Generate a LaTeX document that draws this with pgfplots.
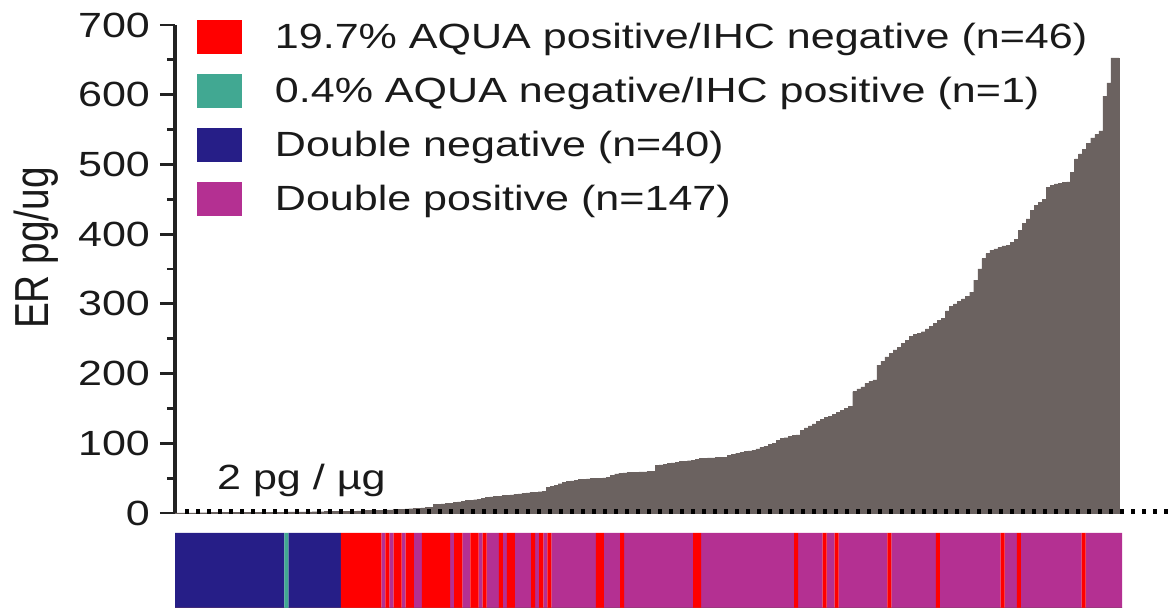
\documentclass[border=0pt]{standalone}
\usepackage{graphicx}
\usepackage{fontspec}
\setmainfont{Liberation Sans}[FakeStretch=1.23]
\newfontfamily\labfont{Liberation Sans}
\usepackage{pgfplots}
\usepackage{pgfplotstable}
\pgfplotsset{compat=1.18}
\definecolor{barc}{HTML}{6B6260}
\definecolor{cR}{HTML}{FF0000}
\definecolor{cT}{HTML}{41A892}
\definecolor{cB}{HTML}{261E87}
\definecolor{cP}{HTML}{B43092}
\definecolor{axc}{HTML}{222222}
\definecolor{txt}{HTML}{1A1A1A}
% c: 1 = double negative, 2 = AQUA neg/IHC pos, 3 = AQUA pos/IHC neg, 4 = double positive
\pgfplotstableread{
i er c
0 0.1 1
1 0.1 1
2 0.2 1
3 0.2 1
4 0.3 1
5 0.3 1
6 0.4 1
7 0.4 1
8 0.5 1
9 0.5 1
10 0.6 1
11 0.6 1
12 0.7 1
13 0.7 1
14 0.8 1
15 0.8 1
16 0.9 1
17 0.9 1
18 1.0 1
19 1.0 1
20 1.1 1
21 1.1 1
22 1.2 1
23 1.2 1
24 1.3 1
25 1.3 1
26 1.4 1
27 1.4 2
28 1.5 1
29 1.5 1
30 1.6 1
31 1.6 1
32 1.7 1
33 1.7 1
34 1.8 1
35 1.8 1
36 1.8 1
37 1.9 1
38 1.9 1
39 1.9 1
40 1.9 1
41 2.1 3
42 2.3 3
43 2.5 3
44 2.7 3
45 2.9 3
46 3.1 3
47 3.3 3
48 3.5 3
49 3.7 3
50 3.9 3
51 4.1 4
52 4.3 3
53 4.6 4
54 4.9 3
55 5.2 3
56 5.5 4
57 5.8 3
58 6.1 3
59 6.4 4
60 6.8 4
61 7.2 3
62 7.6 3
63 8.0 3
64 12 3
65 12.5 3
66 13 3
67 13.5 3
68 14 4
69 15 3
70 16 3
71 17 4
72 18 4
73 18.5 3
74 19 3
75 20 4
76 21 3
77 22 4
78 23 4
79 23.5 4
80 24 3
81 25 4
82 25.5 3
83 26 3
84 27 4
85 27.5 4
86 28 4
87 29 4
88 29.5 3
89 30 4
90 30.5 3
91 31 4
92 37 3
93 38 4
94 40 4
95 42 4
96 44 4
97 45 4
98 46 4
99 47 4
100 48 4
101 48.5 4
102 49 4
103 49.5 4
104 50 3
105 50 3
106 50.5 4
107 51 4
108 54 4
109 56 4
110 57 3
111 57.5 4
112 58 4
113 58 4
114 58.5 4
115 59 4
116 59 4
117 59.5 4
118 60 4
119 68 4
120 69 4
121 70 4
122 71 4
123 72 4
124 73 4
125 74 4
126 74.5 4
127 75 4
128 76 3
129 77 3
130 78 4
131 78.5 4
132 79 4
133 79 4
134 79.5 4
135 80 4
136 80 4
137 83 4
138 84 4
139 86 4
140 87 4
141 88 4
142 89 4
143 90 4
144 92 4
145 94 4
146 96 4
147 98 4
148 100 4
149 104 4
150 107 4
151 108 4
152 110 4
153 111 3
154 112 4
155 119 4
156 122 4
157 125 4
158 128 4
159 131 4
160 134 3
161 137 4
162 139 4
163 141 3
164 144 4
165 147 4
166 150 4
167 153 4
168 174 4
169 178 4
170 181 4
171 186 4
172 189 4
173 191 4
174 212 4
175 218 4
176 224 3
177 229 4
178 234 4
179 238 4
180 243 4
181 248 4
182 253 4
183 256 4
184 258 4
185 260 4
186 264 4
187 268 4
188 272 3
189 276 4
190 279 4
191 290 4
192 296 4
193 300 4
194 304 4
195 307 4
196 311 4
197 317 4
198 334 4
199 350 4
200 365 4
201 372 4
202 377 4
203 379 4
204 381 3
205 383 4
206 384 4
207 388 4
208 393 3
209 405 4
210 415 4
211 422 4
212 434 4
213 441 4
214 446 4
215 450 4
216 467 4
217 470 4
218 472 4
219 473 4
220 474 4
221 475 4
222 489 4
223 508 4
224 515 3
225 522 4
226 530 4
227 538 4
228 543 4
229 548 4
230 598 4
231 617 4
232 653 4
233 653 4
}\erdata
\begin{document}
\begin{tikzpicture}
\begin{axis}[
  at={(87.5pt,47.5pt)}, anchor=south west,
  scale only axis, width=498.5pt, height=244pt,
  xmin=0, xmax=247.15, ymin=0, ymax=700, clip=false,
  axis x line=none, axis y line*=left,
  y axis line style={line width=1.5pt, color=axc},
  ytick={0,100,...,700}, minor ytick={50,150,...,650},
  tick align=outside, major tick length=7.5pt, minor tick length=4pt,
  tick style={line width=1.4pt, color=axc},
  yticklabel style={font=\fontsize{17.5}{20}\selectfont, text=txt, xshift=-1.5pt},
  /pgf/number format/assume math mode=true,
  ylabel={\scalebox{1}[1.23]{\labfont\fontsize{19.4}{22}\selectfont ER pg/ug}},
  ylabel style={at={(axis description cs:-0.139,0.543)}, anchor=center, text=txt},
  legend style={at={(axis description cs:0.022,1.01)}, anchor=north west,
    draw=none, fill=none, inner sep=0pt, outer sep=0pt, row sep=10pt, column sep=16.5pt,
    font=\fontsize{17.5}{20}\selectfont, text=txt,
    nodes={inner sep=0pt, outer sep=0pt}},
  legend cell align=left,
  legend image code/.code={\fill[#1] (0pt,-8.5pt) rectangle (22.5pt,8.5pt);},
]
\addlegendimage{fill=cR, draw=none}
\addlegendentry{19.7\% AQUA positive/IHC negative (n=46)}
\addlegendimage{fill=cT, draw=none}
\addlegendentry{0.4\% AQUA negative/IHC positive (n=1)}
\addlegendimage{fill=cB, draw=none}
\addlegendentry{Double negative (n=40)}
\addlegendimage{fill=cP, draw=none}
\addlegendentry{Double positive (n=147)}
\addplot[ybar, bar width=1, bar shift=0pt, fill=barc, draw=barc, line width=0.2pt, forget plot]
  table[x expr=\thisrow{i}+0.5, y=er] {\erdata};
\addplot[black, line width=2.2pt, dash pattern=on 2.2pt off 3.3pt, forget plot]
  coordinates {(2.5,2) (247.15,2)};
\node[anchor=base west, font=\fontsize{17.5}{20}\selectfont, text=txt] at (axis cs:8.7,34) {2 pg / µg};
\end{axis}
\begin{axis}[
  at={(87.5pt,0pt)}, anchor=south west,
  scale only axis, width=473.5pt, height=37.5pt,
  xmin=0, xmax=234, ymin=0, ymax=1, hide axis]
\addplot[ybar, bar width=1, bar shift=0pt, fill=cP, draw=none]
  table[x expr=\thisrow{i}+0.5, y expr={\thisrow{c}==4 ? 1 : 0}] {\erdata};
\addplot[ybar, bar width=1, bar shift=0pt, fill=cB, draw=none]
  table[x expr=\thisrow{i}+0.5, y expr={\thisrow{c}==1 ? 1 : 0}] {\erdata};
\addplot[ybar, bar width=1, bar shift=0pt, fill=cR, draw=none]
  table[x expr=\thisrow{i}+0.5, y expr={\thisrow{c}==3 ? 1 : 0}] {\erdata};
\addplot[ybar, bar width=1, bar shift=0pt, fill=cT, draw=none]
  table[x expr=\thisrow{i}+0.5, y expr={\thisrow{c}==2 ? 1 : 0}] {\erdata};
\end{axis}
\pgfresetboundingbox
\useasboundingbox (0,0) rectangle (586pt,304pt);
\end{tikzpicture}
\end{document}
